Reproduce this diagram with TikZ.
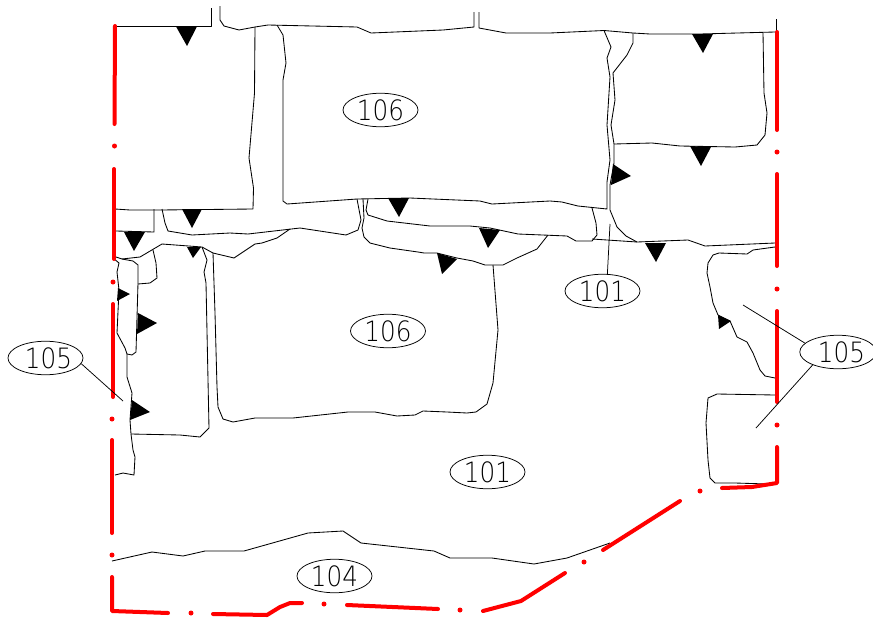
\documentclass[tikz,border=0pt]{standalone}
\usepackage{fontspec}
\usepackage{tikz}
\usetikzlibrary{shapes.geometric}
\newfontfamily\tagfont[FakeStretch=0.88]{DejaVu Sans ExtraLight}

\tikzset{
    wall/.style={draw=black, line width=0.85pt, line join=round},
    axis/.style={draw=red, line width=4pt, line cap=round, line join=round},
    axisdot/.style={circle, fill=red, inner sep=0pt, minimum size=5pt},
    mark tri/.style={fill=black, draw=none},
    tag/.style={ellipse, draw=black, line width=0.75pt, minimum width=75pt, minimum height=33.5pt,
        inner sep=0pt, font=\tagfont\fontsize{28}{28}\selectfont},
    leader/.style={draw=black, line width=0.75pt}
}

\begin{document}
\begin{tikzpicture}[x=1pt, y=-1pt]
    \useasboundingbox (0,0) rectangle (873,619);

    % top edge
    \draw[wall] (211,8) -- (211,26) -- (115,26);
    \draw[wall] (220,6) -- (220,20) -- (224,26) -- (239,30) -- (255,27) -- (268,25) -- (357,27) -- (371,33) -- (443,30) -- (474,27) -- (474,12);
    \draw[wall] (479,12) -- (479,28) -- (506,33) -- (550,33) -- (604,30.5) -- (633,33) -- (650,34) -- (700,34) -- (775,32);
    \draw[wall] (776,19) -- (776,32);

    % upper left room
    \draw[wall] (255,27) -- (254.5,93) -- (249,158) -- (253.5,188) -- (253,209) -- (160,210) -- (130,210) -- (115,209);
    \draw[wall] (154,209) -- (154,232) -- (116,231);

    % upper block
    \draw[wall] (277,25) -- (283,35) -- (286,63) -- (283,80) -- (283,201) -- (287,204) -- (357,199) -- (410,198) -- (433,199) -- (480,201) -- (492,204) -- (550,201) -- (562,202) -- (578,206) -- (607,209) -- (607,182) -- (610,160) -- (607,125) -- (610,77) -- (607,58) -- (611,47) -- (604,30.5);
    \draw[wall] (633,33) -- (633,43) -- (627,55) -- (613,73) -- (615,100) -- (611,125) -- (614,144) -- (614,163) -- (610,185) -- (610,210) -- (617,227) -- (626,236) -- (637,242);

    % upper right room
    \draw[wall] (614,144) -- (652,143) -- (680,146) -- (735,147) -- (757,145) -- (765,135) -- (767,113) -- (764,93) -- (763,33);
    \draw[wall] (592,239) -- (637,242) -- (688,240) -- (705,246) -- (775,243);

    % bands under the block
    \draw[wall] (357,199) -- (361,220) -- (358,230) -- (346,235) -- (300,228) -- (248,234) -- (230,233) -- (192,235) -- (168,231) -- (165,223) -- (162,209);
    \draw[wall] (363,199) -- (364,218) -- (362,228) -- (364,237) -- (370,243) -- (390,248) -- (418,252) -- (424,253) -- (437,253) -- (457,258) -- (473,261) -- (485,265) -- (503,265) -- (517,258) -- (537,249) -- (548,235);
    \draw[wall] (368,199) -- (366,210) -- (368,215) -- (387,221) -- (430,226) -- (470,226) -- (490,228) -- (518,234) -- (567,236) -- (576,241) -- (592,241) -- (597,235) -- (596,223) -- (592,208);
    \draw[wall] (290,229) -- (277,238) -- (262,243) -- (255,244) -- (234,258) -- (213,253) -- (202,247) -- (162,244) -- (140,257) -- (122,259) -- (116,257);

    % left strip
    \draw[wall] (113,258) -- (119,263) -- (117,272) -- (119,290) -- (117,333) -- (125,348) -- (127,354) -- (132,355) -- (136,352) -- (138,283) -- (138,265) -- (133,261) -- (122,259);
    \draw[wall] (153,250) -- (156,263) -- (157,278) -- (150,283) -- (138,284);
    \draw[wall] (127,354) -- (127,377) -- (132,393) -- (130,420) -- (131,434) -- (133,450) -- (135,457) -- (134,475) -- (123,473) -- (115,475);
    \draw[wall] (131,434) -- (180,435) -- (200,437) -- (209,428) -- (206,283) -- (204,272) -- (207,260) -- (202,247);

    % lower block
    \draw[wall] (213,253) -- (215,313) -- (217,387) -- (218,407) -- (223,419) -- (233,422) -- (255,418) -- (293,418) -- (348,412) -- (375,412) -- (397,416) -- (415,415) -- (423,411) -- (447,412) -- (467,413) -- (476,412) -- (487,404) -- (493,383) -- (498,330) -- (493,265);

    % right pieces
    \draw[wall] (775,247) -- (753,250) -- (747,254) -- (719,253) -- (713,255) -- (708,263) -- (707,273) -- (710,287) -- (713,303) -- (718,315) -- (730,321) -- (737,337) -- (747,342) -- (753,353) -- (760,370) -- (765,376) -- (775,378);
    \draw[wall] (775,395) -- (717,394) -- (708,398) -- (706,423) -- (708,460) -- (710,478) -- (715,483) -- (735,483) -- (768,484);

    % bottom edge
    \draw[wall] (112,561) -- (152,552) -- (183,556) -- (205,551) -- (244,551) -- (308,533) -- (343,531) -- (361,543) -- (434,551) -- (450,558) -- (492,558) -- (534,564) -- (567,558) -- (610,543);

    % triangles
    \foreach \a/\b/\c in {
        {176,26.5}/{197,26.5}/{187,46},
        {182,209}/{202,209}/{192,228},
        {124,232}/{145,232}/{134,251},
        {187,247}/{201,247}/{193,258},
        {388,198}/{409,198}/{399,217},
        {479,228}/{500,230}/{488,248},
        {437,253}/{457,259}/{442,274},
        {692,34}/{713,34}/{703,53},
        {690,146}/{711,147}/{701,166},
        {645,243}/{666,243}/{656,262},
        {613,164}/{631,176}/{611,185},
        {118,288}/{130,294}/{117,301},
        {138,313}/{157,323}/{137,334},
        {132,400}/{150,412}/{130,420},
        {718,315}/{731,321}/{719,329}} {
        \fill[mark tri] (\a) -- (\b) -- (\c) -- cycle;
    }

    % red boundary
    \draw[axis] (115,26) -- (114.5,124);
    \draw[axis] (114,169) -- (114,259);
    \draw[axis] (113,304) -- (113,397);
    \draw[axis] (112,440) -- (112,533);
    \draw[axis] (112,577) -- (112,611) -- (168,613);
    \draw[axis] (213,614) -- (267,615) -- (280,607) -- (290,603) -- (302,603);
    \draw[axis] (347,605) -- (438,609);
    \draw[axis] (483,611) -- (521,601) -- (565,573);
    \draw[axis] (603,550) -- (680,501);
    \draw[axis] (722,488) -- (752,487) -- (777,483) -- (777,447);
    \draw[axis] (777,402) -- (777,311);
    \draw[axis] (777,266) -- (777,174);
    \draw[axis] (777,130) -- (777,32);
    \foreach \p in {{114.5,146},{113,282},{112,419},{112,555},{191,613},{324,604},{460,610},{584,562},{700,491},{777,425},{777,289},{777,152}} {
        \node[axisdot] at (\p) {};
    }

    % labels
    \node[tag] (top106) at (380.5,110) {106};
    \node[tag] (low106) at (388,331) {106};
    \node[tag] (mid101) at (602.5,291) {101};
    \node[tag] (low101) at (487.5,472) {101};
    \node[tag] (road104) at (334.5,576) {104};
    \node[tag] (left105) at (45.5,358) {\hspace{6pt}105};
    \node[tag] (right105) at (838,352) {\hspace{7pt}105};

    \coordinate (midend) at (610,224);
    \coordinate (leftend) at (123,401);
    \coordinate (upperend) at (743,305);
    \coordinate (lowerend) at (756,428);
    \draw[leader] (mid101.74) -- (midend);
    \draw[leader] (left105.-9) -- (leftend);
    \draw[leader] (right105.165) -- (upperend);
    \draw[leader] (right105.207) -- (lowerend);
\end{tikzpicture}
\end{document}
